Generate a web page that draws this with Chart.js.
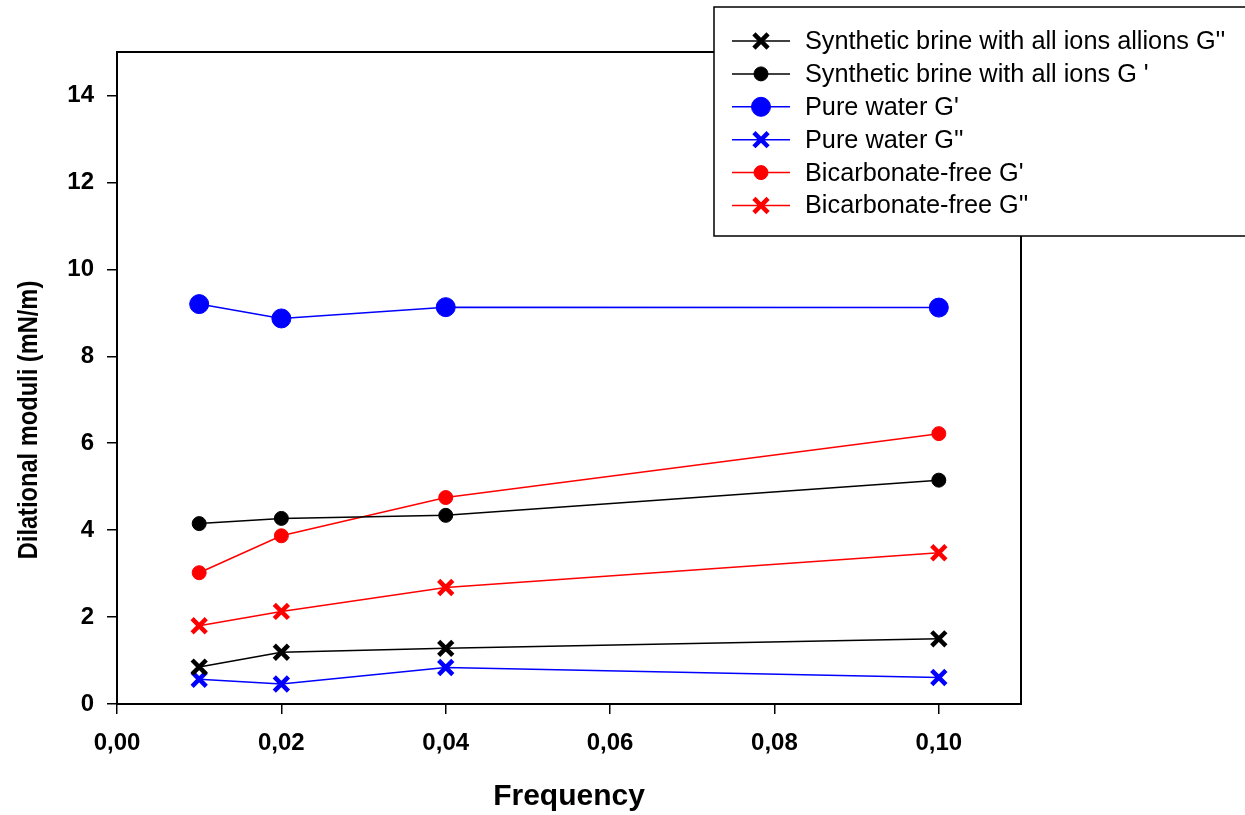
<!DOCTYPE html>
<html>
<head>
<meta charset="utf-8">
<title>Dilational moduli vs frequency</title>
<script src="https://cdn.jsdelivr.net/npm/chart.js@4.4.0/dist/chart.umd.min.js"></script>
<style>
  html, body { margin: 0; padding: 0; background: #fff; }
  #chart { display: block; }
</style>
</head>
<body>
<canvas id="chart" width="1245" height="815"></canvas>
<script>
// frequencies and measured moduli (mN/m)
const frequencies = [0.01, 0.02, 0.04, 0.10];
const brineAllIonsGpp = [0.85, 1.19, 1.28, 1.50];
const brineAllIonsGp = [4.15, 4.27, 4.34, 5.15];
const pureWaterGp = [9.20, 8.87, 9.13, 9.12];
const pureWaterGpp = [0.57, 0.46, 0.84, 0.61];
const bicarbFreeGp = [3.02, 3.87, 4.75, 6.22];
const bicarbFreeGpp = [1.80, 2.13, 2.68, 3.48];

const xTickValues = [0, 0.02, 0.04, 0.06, 0.08, 0.10];
const yTickValues = [0, 2, 4, 6, 8, 10, 12, 14];

const yTitle = 'Dilational moduli (mN/m)';

const FONT = "Arial, 'Liberation Sans', sans-serif";

function toPoints(ys) {
  return frequencies.map((x, i) => ({ x: x, y: ys[i] }));
}

function series(label, color, ys, style, radius, pw) {
  return {
    label: label,
    data: toPoints(ys),
    borderColor: color,
    backgroundColor: color,
    borderWidth: 1.5,
    tension: 0,
    pointStyle: style,
    pointRadius: radius,
    pointHoverRadius: radius,
    pointBorderColor: color,
    pointBackgroundColor: color,
    pointBorderWidth: pw
  };
}

const datasets = [
  series("Synthetic brine with all ions allions G''", '#000000', brineAllIonsGpp, 'crossRot', 10, 4.5),
  series("Synthetic brine with all ions G '", '#000000', brineAllIonsGp, 'circle', 7, 1),
  series("Pure water G'", '#0000ff', pureWaterGp, 'circle', 9.5, 1),
  series("Pure water G''", '#0000ff', pureWaterGpp, 'crossRot', 10, 4.5),
  series("Bicarbonate-free G'", '#ff0000', bicarbFreeGp, 'circle', 7, 1),
  series("Bicarbonate-free G''", '#ff0000', bicarbFreeGpp, 'crossRot', 10, 4.5)
];

// top and right sides of the plot frame
const frame = {
  id: 'frame',
  afterDatasetsDraw(chart) {
    const { ctx, chartArea: a } = chart;
    ctx.save();
    ctx.strokeStyle = '#000';
    ctx.lineWidth = 2;
    ctx.beginPath();
    ctx.moveTo(a.left - 1, a.top);
    ctx.lineTo(a.right, a.top);
    ctx.lineTo(a.right, a.bottom + 1);
    ctx.stroke();
    ctx.restore();
  }
};

// rotated y-axis title, set a little lower than the plot middle
const yAxisTitle = {
  id: 'yAxisTitle',
  afterDraw(chart) {
    const ctx = chart.ctx;
    ctx.save();
    ctx.translate(37, 420);
    ctx.rotate(-Math.PI / 2);
    ctx.scale(0.86, 1);
    ctx.font = 'bold 27.5px ' + FONT;
    ctx.fillStyle = '#000';
    ctx.textAlign = 'center';
    ctx.textBaseline = 'alphabetic';
    ctx.fillText(yTitle, 0, 0);
    ctx.restore();
  }
};

// boxed legend: line segment with marker, then label
const boxLegend = {
  id: 'boxLegend',
  afterDraw(chart) {
    const ctx = chart.ctx;
    const box = { x: 714, y: 7, w: 540, h: 229 };
    ctx.save();
    ctx.fillStyle = '#fff';
    ctx.fillRect(box.x, box.y, box.w, box.h);
    ctx.strokeStyle = '#000';
    ctx.lineWidth = 1.5;
    ctx.strokeRect(box.x, box.y, box.w, box.h);

    const rowTop = 41, rowGap = 32.9;
    ctx.font = '25.3px ' + FONT;
    ctx.textBaseline = 'middle';
    ctx.textAlign = 'left';
    chart.data.datasets.forEach((ds, i) => {
      const y = rowTop + i * rowGap;
      ctx.strokeStyle = ds.borderColor;
      ctx.lineWidth = ds.borderWidth;
      ctx.beginPath();
      ctx.moveTo(732, y);
      ctx.lineTo(790, y);
      ctx.stroke();
      ctx.lineWidth = ds.pointBorderWidth;
      ctx.fillStyle = ds.pointBackgroundColor;
      ctx.strokeStyle = ds.pointBorderColor;
      Chart.helpers.drawPoint(ctx, {
        pointStyle: ds.pointStyle,
        radius: ds.pointRadius,
        rotation: 0,
        borderWidth: ds.pointBorderWidth
      }, 761, y);
      ctx.fillStyle = '#000';
      ctx.fillText(ds.label, 805, y + 1);
    });
    ctx.restore();
  }
};

new Chart(document.getElementById('chart'), {
  type: 'line',
  data: { datasets: datasets },
  plugins: [frame, yAxisTitle, boxLegend],
  options: {
    responsive: false,
    animation: false,
    events: [],
    layout: { padding: { top: 52, right: 224, left: 0, bottom: 0 } },
    plugins: {
      legend: { display: false },
      tooltip: { enabled: false }
    },
    scales: {
      x: {
        type: 'linear',
        min: 0,
        max: 0.11,
        afterBuildTicks: (scale) => { scale.ticks = xTickValues.map(v => ({ value: v })); },
        afterFit: (scale) => { scale.height = 111; },
        border: { color: '#000', width: 2 },
        grid: { drawOnChartArea: false, color: '#000', lineWidth: 1.5, tickLength: 10 },
        ticks: {
          color: '#000',
          padding: 15,
          maxRotation: 0,
          font: { family: FONT, size: 24, weight: 'bold' },
          callback: (v) => v.toFixed(2).replace('.', ',')
        },
        title: {
          display: true,
          text: 'Frequency',
          color: '#000',
          padding: { top: 0, bottom: 0 },
          font: { family: FONT, size: 30, weight: 'bold' }
        }
      },
      y: {
        type: 'linear',
        min: 0,
        max: 15,
        afterBuildTicks: (scale) => { scale.ticks = yTickValues.map(v => ({ value: v })); },
        afterFit: (scale) => { scale.width = 117; },
        border: { color: '#000', width: 2 },
        grid: { drawOnChartArea: false, color: '#000', lineWidth: 1.5, tickLength: 10 },
        ticks: {
          color: '#000',
          padding: 13,
          font: { family: FONT, size: 24, weight: 'bold' },
          callback: (v) => String(v)
        }
      }
    }
  }
});
</script>
</body>
</html>
